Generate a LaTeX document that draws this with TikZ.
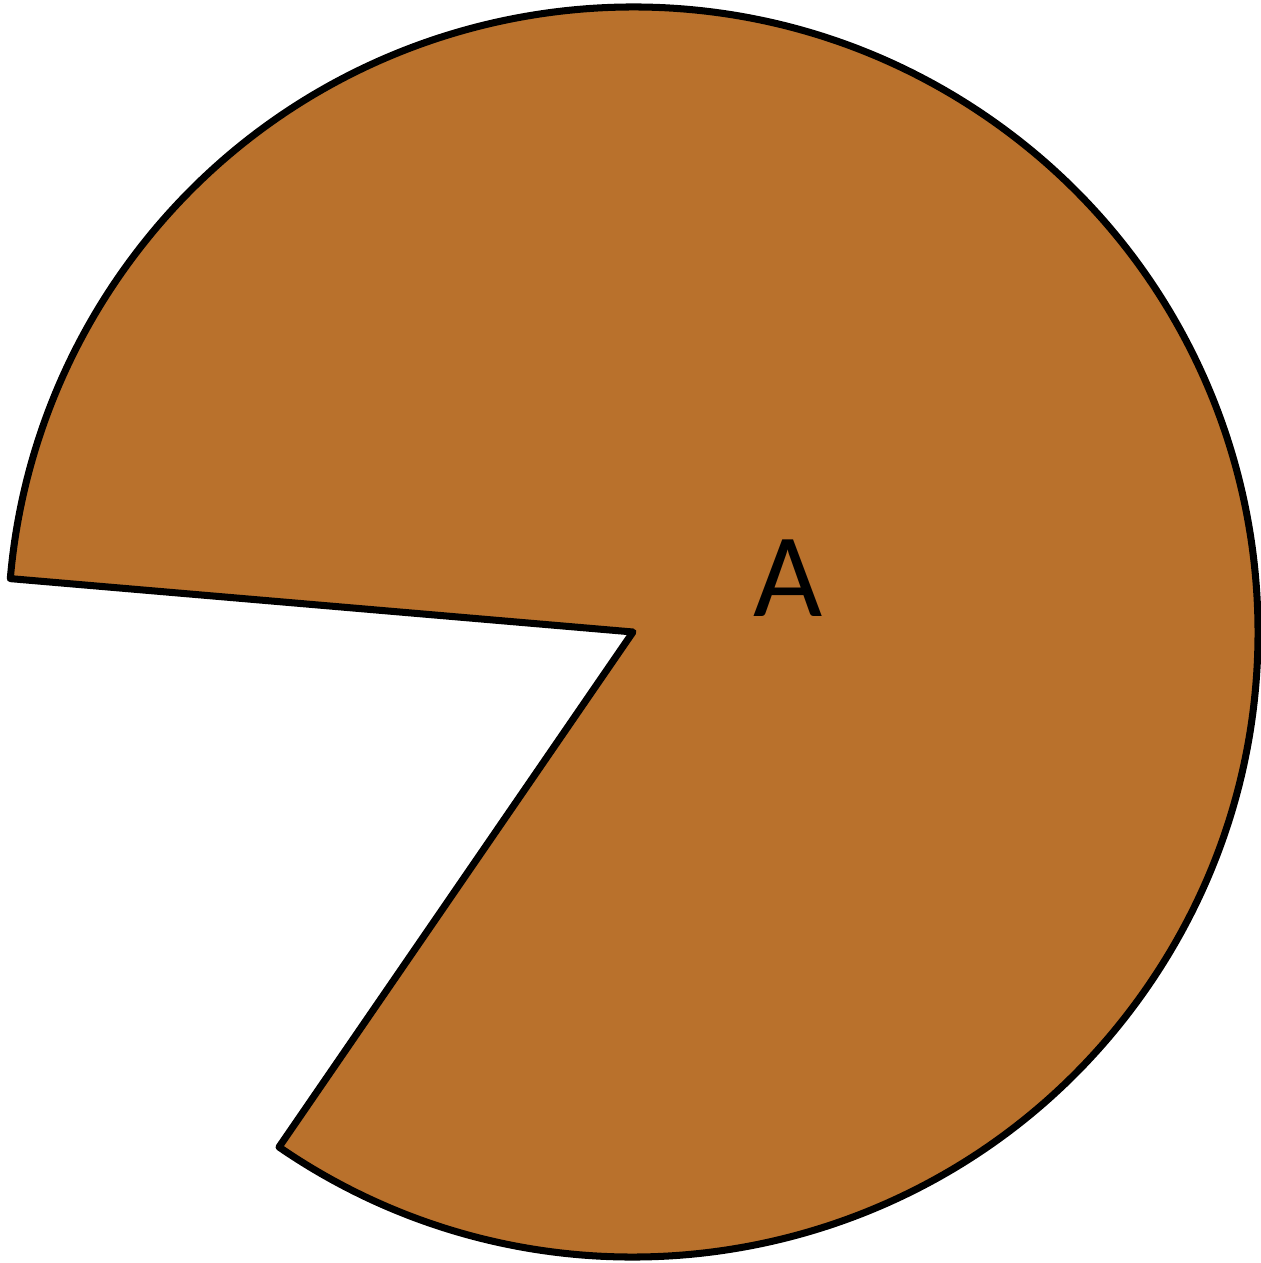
\documentclass[tikz,border=0pt]{standalone}
\usepackage{fontspec}
\setmainfont{Carlito}
\usepackage{xcolor}
\usepackage{tikz}
\usetikzlibrary{calc}
\definecolor{slicefill}{HTML}{B9712C}
\tikzset{
  slice/.style={draw=black,line width=2pt,line join=round,fill=slicefill},
  slabel/.style={inner sep=0pt,font=\fontsize{34}{40}\selectfont,text=black},
}
\begin{document}
\begin{tikzpicture}
  \useasboundingbox (0,0) rectangle (12.61,12.63);
  \coordinate (o) at (6.33,6.31);
  \draw[slice] (o) -- ++(235.5:6.25cm)
    arc[start angle=235.5,end angle=535.1,radius=6.25cm] -- cycle;
  \node[slabel] (a) at (7.88,6.85) {A};
\end{tikzpicture}
\end{document}
